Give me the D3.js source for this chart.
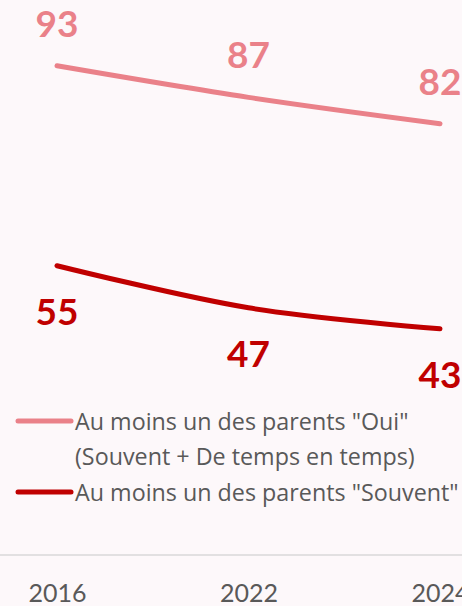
<!DOCTYPE html>
<html>
<head>
<meta charset="utf-8">
<script src="https://cdn.jsdelivr.net/npm/d3@7"></script>
<style>
  html, body { margin: 0; padding: 0; background: #fdf8fa; }
  svg { display: block; }
</style>
</head>
<body>
<svg id="chart" width="462" height="606"></svg>
<script>
// Years on the category axis
const years = ["2016", "2022", "2024"];
// Au moins un des parents "Oui" (Souvent + De temps en temps)
const ouiValues = [93, 87, 82];
// Au moins un des parents "Souvent"
const souventValues = [55, 47, 43];

const seriesNames = [
  ["Au moins un des parents \"Oui\"", "(Souvent + De temps en temps)"],
  ["Au moins un des parents \"Souvent\""]
];
const seriesColors = ["#ea8189", "#c00000"];

const W = 462, H = 606;
const svg = d3.select("#chart");
svg.append("rect").attr("width", W).attr("height", H).attr("fill", "#fdf8fa");

const x = d3.scalePoint().domain(years).range([57, 440]);
const y = d3.scaleLinear().domain([0, 100]).range([555, 29]);

const font = "Lato, 'Open Sans', sans-serif";
const legendFont = "'Open Sans', Lato, sans-serif";

// axis baseline
svg.append("line")
  .attr("x1", 0).attr("x2", W)
  .attr("y1", y(0)).attr("y2", y(0))
  .attr("stroke", "#d9d9d9").attr("stroke-width", 1.5);

// x axis labels
const xAxis = d3.axisBottom(x).tickSize(0).tickPadding(0);
const gx = svg.append("g").attr("transform", `translate(0,${y(0)})`).call(xAxis);
gx.select(".domain").remove();
gx.selectAll("text")
  .attr("dy", null)
  .attr("y", 47)
  .attr("font-family", font)
  .attr("font-size", 25)
  .attr("fill", "#595959");

const line = d3.line()
  .x((d, i) => x(years[i]))
  .y(d => y(d))
  .curve(d3.curveCatmullRom.alpha(0.5));

const series = [ouiValues, souventValues];
series.forEach((vals, s) => {
  svg.append("path")
    .attr("d", line(vals))
    .attr("fill", "none")
    .attr("stroke", seriesColors[s])
    .attr("stroke-width", 5)
    .attr("stroke-linecap", "round");

  svg.selectAll(null)
    .data(vals)
    .enter().append("text")
    .attr("x", (d, i) => x(years[i]))
    .attr("y", d => s === 0 ? y(d) - 29 : y(d) + 59)
    .attr("text-anchor", "middle")
    .attr("font-family", font)
    .attr("font-weight", "bold")
    .attr("font-size", 37)
    .attr("fill", seriesColors[s])
    .text(d => d);
});

// legend
const legendRows = [421, 492];
seriesNames.forEach((lines, s) => {
  const ly = legendRows[s];
  svg.append("line")
    .attr("x1", 18).attr("x2", 71)
    .attr("y1", ly).attr("y2", ly)
    .attr("stroke", seriesColors[s])
    .attr("stroke-width", 5)
    .attr("stroke-linecap", "round");
  const t = svg.append("text")
    .attr("x", 75)
    .attr("y", ly + 9)
    .attr("font-family", legendFont)
    .attr("font-size", 23.3)
    .attr("fill", "#595959");
  lines.forEach((ln, k) => {
    t.append("tspan").attr("x", 75).attr("dy", k === 0 ? 0 : 35).text(ln);
  });
});
</script>
</body>
</html>
